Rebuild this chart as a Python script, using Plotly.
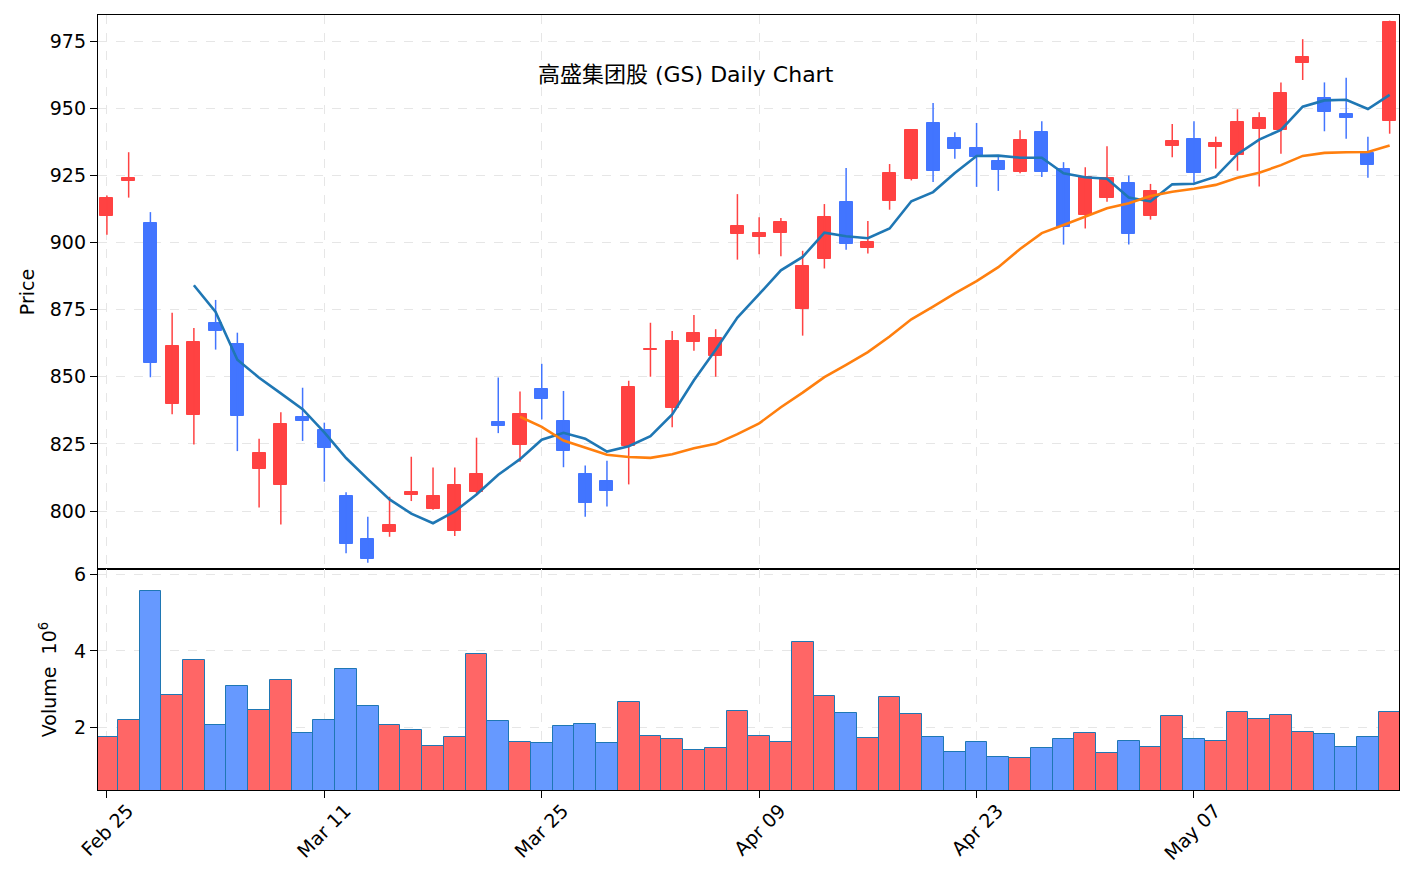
import plotly.graph_objects as go
import pandas as pd

# ---------------- data ----------------
tick_idx = [0, 10, 20, 30, 40, 50]
tick_labels = ["Feb 25", "Mar 11", "Mar 25", "Apr 09", "Apr 23", "May 07"]

opens = [909.8, 922.9, 907.4, 840.0, 835.8, 870.1, 862.1, 815.7, 809.7, 834.9,
         830.1, 805.6, 789.6, 792.0, 806.0, 800.8, 792.6, 806.9, 833.0, 824.6,
         845.4, 833.7, 813.7, 811.1, 824.2, 859.8, 838.4, 863.1, 857.6, 903.2,
         902.0, 903.4, 875.4, 894.0, 915.2, 897.9, 915.4, 923.5, 944.6, 939.0,
         935.3, 930.5, 926.1, 941.3, 927.5, 910.1, 916.4, 922.3, 909.7, 935.8,
         938.4, 935.7, 932.4, 942.1, 941.7, 966.8, 953.8, 947.9, 933.3, 945.1]
highs = [917.5, 933.6, 911.3, 873.8, 868.1, 878.6, 866.4, 826.9, 836.8, 845.9,
         832.9, 807.0, 797.9, 805.3, 820.2, 816.2, 816.2, 827.3, 849.7, 844.5,
         854.8, 844.7, 816.9, 818.7, 848.5, 870.1, 867.0, 873.0, 867.7, 918.0,
         909.4, 909.1, 896.9, 914.3, 927.7, 908.0, 929.2, 942.2, 951.9, 941.0,
         944.5, 931.8, 941.8, 945.1, 929.9, 928.0, 935.8, 924.9, 921.8, 944.1,
         945.1, 939.4, 949.6, 948.5, 959.6, 975.7, 959.6, 961.3, 939.4, 982.6]
lows = [902.9, 916.7, 849.8, 836.0, 824.8, 860.1, 822.3, 801.3, 795.0, 826.1,
        810.9, 784.3, 780.7, 790.4, 803.7, 800.5, 790.7, 806.5, 829.0, 818.3,
        834.1, 816.3, 797.9, 801.7, 809.9, 850.0, 831.2, 859.7, 850.0, 893.6,
        895.6, 894.9, 865.3, 890.3, 897.3, 895.9, 912.2, 923.1, 922.5, 931.2,
        920.7, 919.2, 925.8, 924.4, 899.2, 905.2, 915.2, 899.2, 908.5, 931.7,
        922.2, 927.5, 926.7, 920.8, 933.0, 960.5, 941.4, 938.6, 924.1, 940.5]
closes = [916.7, 924.1, 855.1, 861.6, 862.8, 866.9, 835.3, 821.6, 832.4, 833.5,
          823.5, 787.6, 782.3, 794.7, 807.0, 805.6, 809.6, 813.8, 831.5, 836.1,
          841.8, 822.4, 802.8, 807.6, 846.1, 860.2, 863.2, 866.3, 864.4, 906.0,
          903.7, 907.8, 891.1, 909.5, 899.3, 900.1, 926.0, 941.9, 926.5, 934.8,
          931.7, 926.8, 938.0, 926.4, 905.7, 924.5, 923.9, 903.2, 919.0, 937.6,
          925.7, 937.0, 945.0, 946.2, 955.7, 969.0, 948.6, 946.3, 928.8, 982.2]
volumes_m = [1.76, 2.20, 5.55, 2.85, 3.77, 2.07, 3.08, 2.46, 3.24, 1.86,
             2.20, 3.52, 2.56, 2.06, 1.94, 1.52, 1.76, 3.91, 2.17, 1.63,
             1.60, 2.04, 2.10, 1.60, 2.68, 1.78, 1.71, 1.42, 1.47, 2.43,
             1.78, 1.63, 4.23, 2.82, 2.38, 1.73, 2.80, 2.35, 1.76, 1.37,
             1.63, 1.24, 1.21, 1.47, 1.71, 1.86, 1.34, 1.65, 1.50, 2.30,
             1.71, 1.65, 2.41, 2.23, 2.33, 1.89, 1.84, 1.50, 1.76, 2.41]

# ---------------- styling ----------------
UP = "#ff4242"
DOWN = "#4275ff"
UP_VOL = "#ff6666"
DOWN_VOL = "#6699ff"
FONT = "DejaVu Sans, Noto Sans CJK SC, sans-serif"

df = pd.DataFrame({"o": opens, "h": highs, "l": lows, "c": closes, "v": volumes_m})
df["x"] = range(len(df))
df["up"] = df["c"] >= df["o"]
df["ma5"] = df["c"].rolling(5).mean()
df["ma20"] = df["c"].rolling(20).mean()

fig = go.Figure()

# wicks
for flag, col in [(True, UP), (False, DOWN)]:
    sub = df[df["up"] == flag]
    xs, ys = [], []
    for _, r in sub.iterrows():
        xs += [r["x"], r["x"], None]
        ys += [r["l"], r["h"], None]
    fig.add_trace(go.Scatter(x=xs, y=ys, mode="lines", line=dict(color=col, width=1.5),
                             hoverinfo="skip", showlegend=False, xaxis="x", yaxis="y"))

# bodies
for flag, col in [(True, UP), (False, DOWN)]:
    sub = df[df["up"] == flag]
    fig.add_trace(go.Bar(x=sub["x"], y=(sub["c"] - sub["o"]).abs(),
                         base=sub[["o", "c"]].min(axis=1), width=0.6,
                         marker=dict(color=col, line=dict(color=col, width=1)),
                         showlegend=False, xaxis="x", yaxis="y"))

# moving averages
fig.add_trace(go.Scatter(x=df["x"], y=df["ma5"], mode="lines",
                         line=dict(color="#1f77b4", width=2.6), showlegend=False,
                         xaxis="x", yaxis="y"))
fig.add_trace(go.Scatter(x=df["x"], y=df["ma20"], mode="lines",
                         line=dict(color="#ff7f0e", width=2.6), showlegend=False,
                         xaxis="x", yaxis="y"))

# volume
fig.add_trace(go.Bar(x=df["x"], y=df["v"], width=1.0,
                     marker=dict(color=[UP_VOL if u else DOWN_VOL for u in df["up"]],
                                 line=dict(color="#1f77b4", width=1)),
                     showlegend=False, xaxis="x2", yaxis="y2"))

split = (790 - 569) / 775
axis_common = dict(showline=True, linecolor="black", linewidth=1.3, mirror=True,
                   ticks="outside", ticklen=7, tickcolor="black", tickwidth=1.2,
                   showgrid=True, gridcolor="#e6e6e6", griddash="dash", gridwidth=1,
                   zeroline=False, automargin=False,
                   tickfont=dict(size=19, color="black", family=FONT))

fig.update_layout(
    width=1414, height=889,
    margin=dict(l=98, r=15, t=15, b=99),
    paper_bgcolor="white", plot_bgcolor="white",
    barmode="overlay", bargap=0,
    font=dict(family=FONT, color="black"),
    xaxis=dict(domain=[0, 1], anchor="y", range=[-0.41, 59.43], tickvals=tick_idx,
               ticktext=tick_labels, showticklabels=False, matches="x2", **axis_common),
    yaxis=dict(domain=[split, 1], anchor="x", range=[778.4, 984.7],
               tickvals=[800, 825, 850, 875, 900, 925, 950, 975],
               title=dict(text="Price", font=dict(size=19), standoff=10), **axis_common),
    xaxis2=dict(domain=[0, 1], anchor="y2", range=[-0.41, 59.43], tickvals=tick_idx,
                ticktext=tick_labels, tickangle=-45, ticklabelshift=21,
                ticklabelstandoff=-6, **axis_common),
    yaxis2=dict(domain=[0, split], anchor="x2", range=[0.38, 6.13], tickvals=[2, 4, 6],
                title=dict(text="Volume  10<sup>6</sup>", font=dict(size=19), standoff=12),
                **axis_common),
)

fig.add_annotation(text="高盛集团股 (GS) Daily Chart", xref="paper", yref="paper",
                   x=(686 - 98) / 1301, y=(790 - 75) / 775, xanchor="center",
                   yanchor="middle", showarrow=False,
                   font=dict(size=22, color="black", family=FONT))

fig.write_html("out.html")
